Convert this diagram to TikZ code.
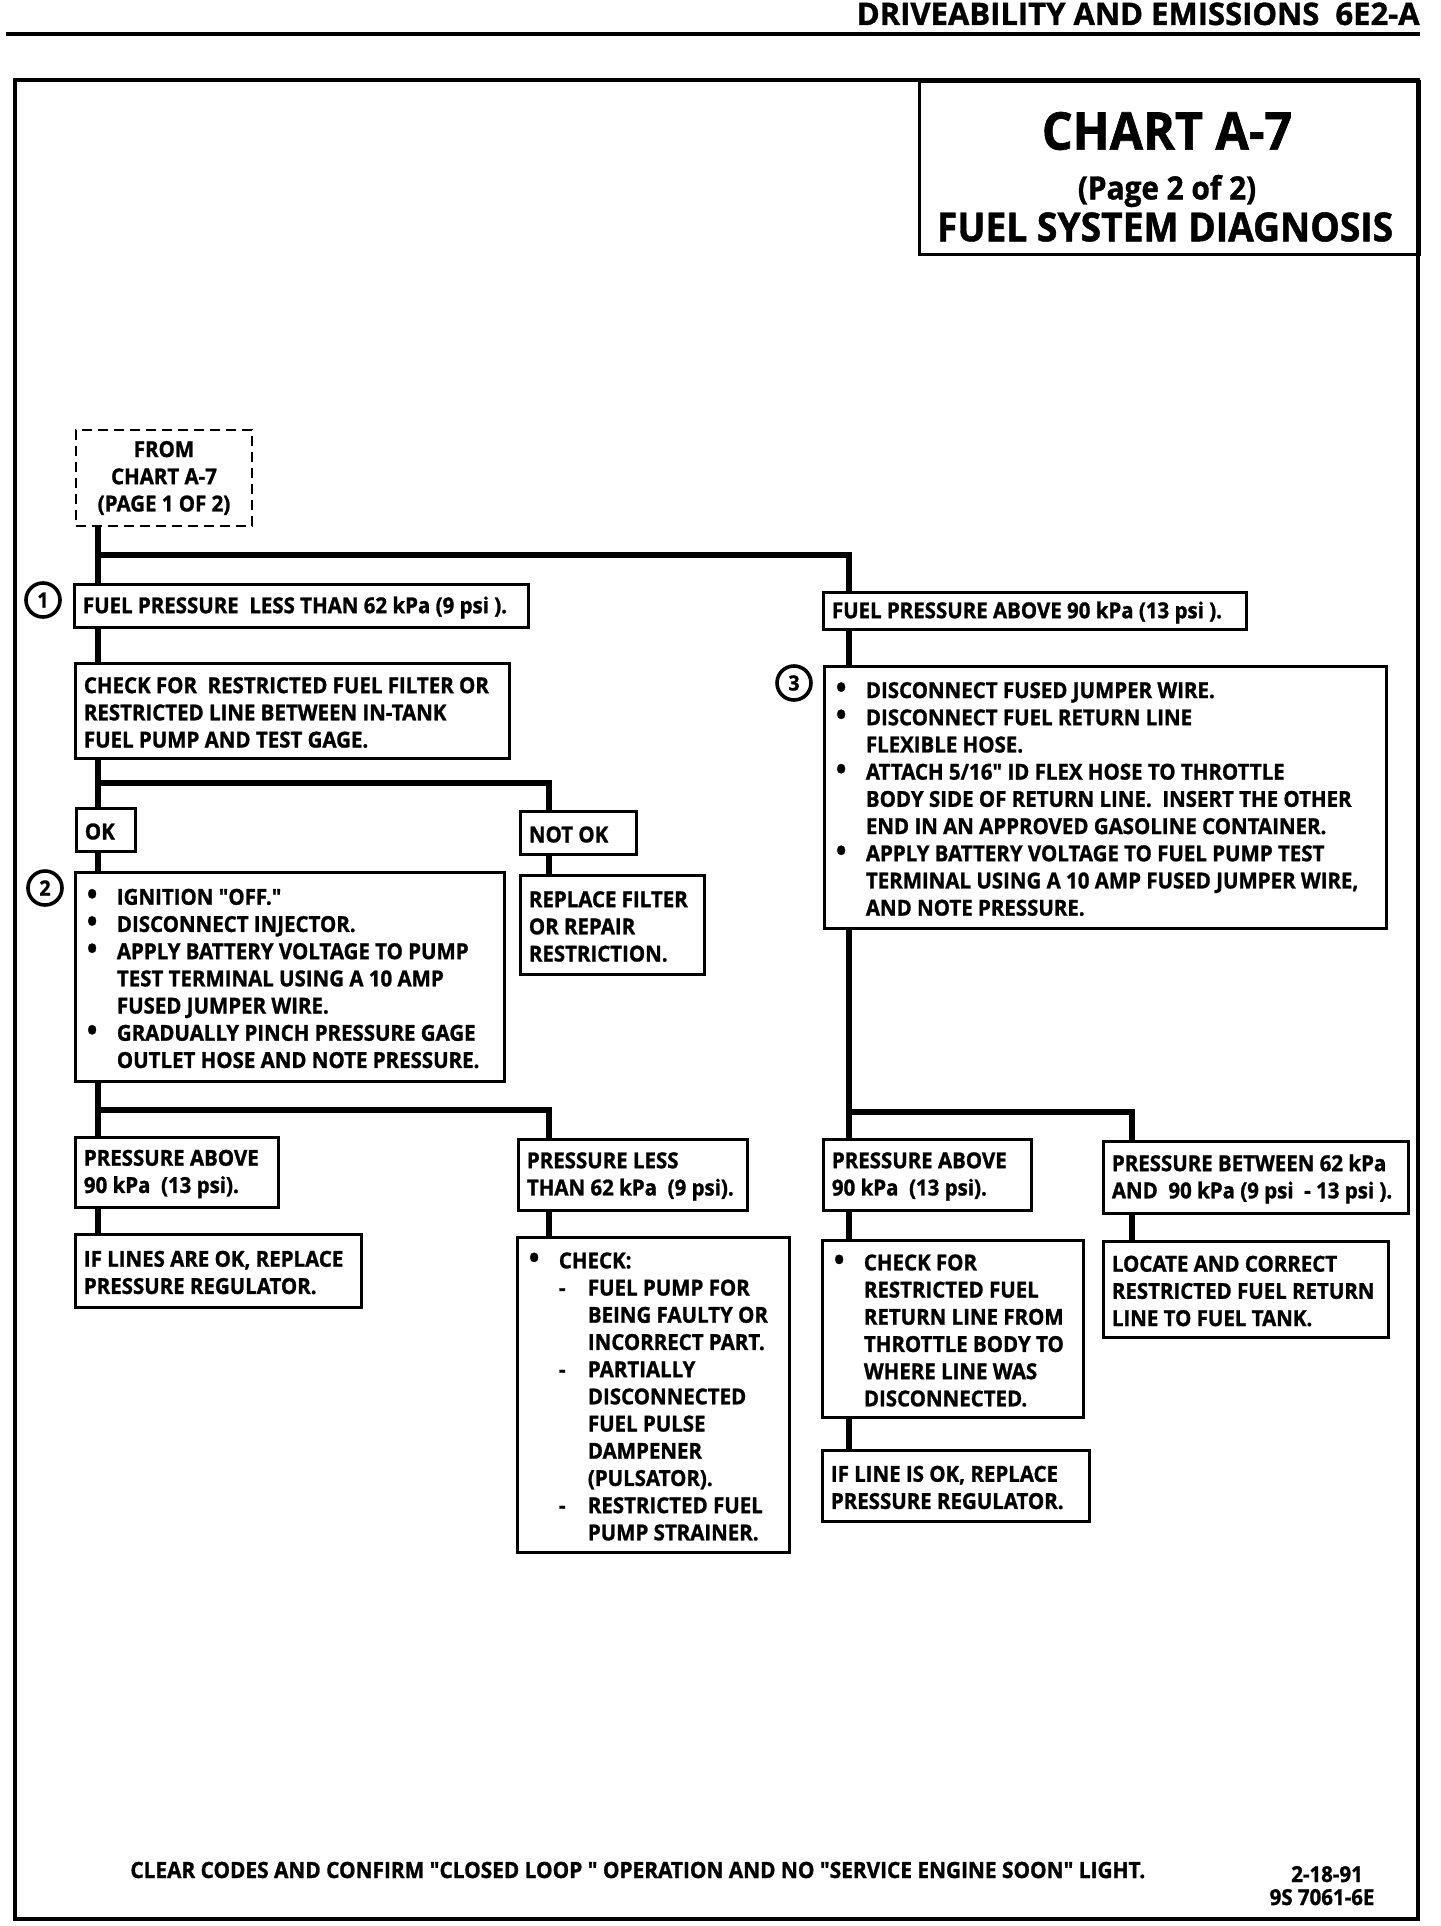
\documentclass[tikz,border=0pt]{standalone}
\usepackage{fontspec}
\newfontfamily\chartfont{Open Sans}[FakeStretch=0.93, BoldFeatures={FakeBold=1.2}]
\newfontfamily\hdrfont{Open Sans}[FakeStretch=1.0, BoldFeatures={FakeBold=1.2}]
\usetikzlibrary{calc}

\newcommand\fbul{\hspace*{1.5pt}\makebox[15pt][l]{\fontsize{15}{0}\selectfont\textbullet}}
\newcommand\find{\hspace*{16.5pt}}
\newcommand\fdash{\makebox[14.5pt][l]{-}}
\newcommand\fdind{\hspace*{14.5pt}}

\tikzset{
  every node/.style={font=\chartfont\bfseries\fontsize{11}{13.6}\selectfont},
  frameline/.style={draw, line width=1.8pt},
  boxnode/.style={draw, line width=1.5pt, inner sep=0pt},
  txt/.style={align=left, anchor=west, inner sep=0pt},
  conn/.style={line width=2.8pt},
  numc/.style={draw, circle, line width=1.8pt, minimum size=17pt, inner sep=0pt,
    font=\chartfont\bfseries\fontsize{10.5}{12}\selectfont},
  dashbox/.style={draw, line width=1.3pt, dash pattern=on 5pt off 3pt, inner sep=0pt, align=center},
}

\newcommand\flowbox[6]{%
  \pgfmathsetmacro\fbw{(#4-#2)*0.5}%
  \pgfmathsetmacro\fbh{(#5-#3)*0.5}%
  \node[boxnode, minimum width=\fbw pt, minimum height=\fbh pt] (#1) at ({(#2+#4)/2},{(#3+#5)/2}) {};%
  \node[txt] (#1-t) at ([xshift=5pt, yshift=-1pt]#1.west) {#6};%
}

\begin{document}
\begin{tikzpicture}[x=0.5pt,y=-0.5pt]
\useasboundingbox (0,0) rectangle (1440,1926);
\fill[white] (0,0) rectangle (1440,1926);

% header
\node[anchor=base east, inner sep=0pt, font=\hdrfont\bfseries\fontsize{15.5}{18}\selectfont] (hdr) at (1420,25) {DRIVEABILITY AND EMISSIONS\ \ 6E2-A};
\draw[line width=1.6pt] (6,34) -- (1420,34);

% frame
\draw[frameline] (15,80) rectangle (1418,1919);

% title box
\node[draw, line width=1.5pt, anchor=north west, minimum width=250pt, minimum height=86.5pt, inner sep=0pt] (title) at (918,80) {};
\node[font=\chartfont\bfseries\fontsize{26}{30}\selectfont] (t1) at (1167,131) {CHART A-7};
\node[font=\chartfont\bfseries\fontsize{16}{18}\selectfont] (t2) at (1167,191) {(Page 2 of 2)};
\node[font=\chartfont\bfseries\fontsize{20}{24}\selectfont] (t3) at (1165,227) {FUEL SYSTEM DIAGNOSIS};

% columns and junctions
\coordinate (cL) at (98,0);
\coordinate (cM) at (549,0);
\coordinate (cR) at (849,0);
\coordinate (cRR) at (1132,0);
\coordinate (j1) at (98,555);
\coordinate (j2) at (98,783);
\coordinate (j3) at (98,1110);
\coordinate (j4) at (849,1112);

% start box
\node[dashbox, minimum width=88pt, minimum height=48pt] (from) at (164,478) {FROM\\CHART A-7\\(PAGE 1 OF 2)};

% boxes
\flowbox{b1}{74}{584}{528}{627}{FUEL PRESSURE\ \ LESS THAN 62 kPa (9 psi ).}
\flowbox{b2}{75}{663}{509}{758}{CHECK FOR\ \ RESTRICTED FUEL FILTER OR\\RESTRICTED LINE BETWEEN IN-TANK\\FUEL PUMP AND TEST GAGE.}
\flowbox{ok}{76}{808}{135}{851}{OK}
\flowbox{notok}{520}{811}{636}{854}{NOT OK}
\flowbox{s2}{75}{872}{504}{1081}{\fbul IGNITION "OFF."\\
\fbul DISCONNECT INJECTOR.\\
\fbul APPLY BATTERY VOLTAGE TO PUMP\\
\find TEST TERMINAL USING A 10 AMP\\
\find FUSED JUMPER WIRE.\\
\fbul GRADUALLY PINCH PRESSURE GAGE\\
\find OUTLET HOSE AND NOTE PRESSURE.}
\flowbox{repl}{520}{875}{704}{974}{REPLACE FILTER\\OR REPAIR\\RESTRICTION.}
\flowbox{paL}{75}{1137}{278}{1207}{PRESSURE ABOVE\\90 kPa\ \ (13 psi).}
\flowbox{regL}{75}{1234}{361}{1307}{IF LINES ARE OK, REPLACE\\PRESSURE REGULATOR.}
\flowbox{plL}{518}{1139}{747}{1210}{PRESSURE LESS\\THAN 62 kPa\ \ (9 psi).}
\flowbox{chk}{517}{1237}{789}{1552}{\fbul CHECK:\\
\find\fdash FUEL PUMP FOR\\
\find\fdind BEING FAULTY OR\\
\find\fdind INCORRECT PART.\\
\find\fdash PARTIALLY\\
\find\fdind DISCONNECTED\\
\find\fdind FUEL PULSE\\
\find\fdind DAMPENER\\
\find\fdind (PULSATOR).\\
\find\fdash RESTRICTED FUEL\\
\find\fdind PUMP STRAINER.}
\flowbox{paR}{823}{592}{1246}{629}{FUEL PRESSURE ABOVE 90 kPa (13 psi ).}
\flowbox{b3}{824}{666}{1386}{928}{\fbul DISCONNECT FUSED JUMPER WIRE.\\
\fbul DISCONNECT FUEL RETURN LINE\\
\find FLEXIBLE HOSE.\\
\fbul ATTACH 5/16" ID FLEX HOSE TO THROTTLE\\
\find BODY SIDE OF RETURN LINE.\ \ INSERT THE OTHER\\
\find END IN AN APPROVED GASOLINE CONTAINER.\\
\fbul APPLY BATTERY VOLTAGE TO FUEL PUMP TEST\\
\find TERMINAL USING A 10 AMP FUSED JUMPER WIRE,\\
\find AND NOTE PRESSURE.}
\flowbox{pa2}{823}{1139}{1031}{1210}{PRESSURE ABOVE\\90 kPa\ \ (13 psi).}
\flowbox{chkR}{822}{1240}{1083}{1417}{\fbul CHECK FOR\\
\find RESTRICTED FUEL\\
\find RETURN LINE FROM\\
\find THROTTLE BODY TO\\
\find WHERE LINE WAS\\
\find DISCONNECTED.}
\flowbox{regR}{822}{1450}{1089}{1521}{IF LINE IS OK, REPLACE\\PRESSURE REGULATOR.}
\flowbox{btw}{1103}{1141}{1408}{1213}{PRESSURE BETWEEN 62 kPa\\AND\ \ 90 kPa (9 psi\ \ - 13 psi ).}
\flowbox{loc}{1103}{1241}{1388}{1337}{LOCATE AND CORRECT\\RESTRICTED FUEL RETURN\\LINE TO FUEL TANK.}

% step numbers
\node[numc] (n1) at (43,600) {1};
\node[numc] (n2) at (45,888) {2};
\node[numc] (n3) at (794,683) {3};

% connectors
\draw[conn] (from.south -| cL) -- (b1.north -| cL);
\draw[conn] (j1) -| (paR.north -| cR);
\draw[conn] (b1.south -| cL) -- (b2.north -| cL);
\draw[conn] (b2.south -| cL) -- (ok.north -| cL);
\draw[conn] (j2) -| (notok.north -| cM);
\draw[conn] (ok.south -| cL) -- (s2.north -| cL);
\draw[conn] (notok.south -| cM) -- (repl.north -| cM);
\draw[conn] (s2.south -| cL) -- (paL.north -| cL);
\draw[conn] (j3) -| (plL.north -| cM);
\draw[conn] (paL.south -| cL) -- (regL.north -| cL);
\draw[conn] (plL.south -| cM) -- (chk.north -| cM);
\draw[conn] (paR.south -| cR) -- (b3.north -| cR);
\draw[conn] (b3.south -| cR) -- (pa2.north -| cR);
\draw[conn] (j4) -| (btw.north -| cRR);
\draw[conn] (pa2.south -| cR) -- (chkR.north -| cR);
\draw[conn] (chkR.south -| cR) -- (regR.north -| cR);
\draw[conn] (btw.south -| cRR) -- (loc.north -| cRR);

% footer
\node[anchor=base west, inner sep=0pt, font=\chartfont\bfseries\fontsize{11.2}{13}\selectfont] (foot) at (130,1878) {CLEAR CODES AND CONFIRM "CLOSED LOOP " OPERATION AND NO "SERVICE ENGINE SOON" LIGHT.};
\node[anchor=base, inner sep=0pt] (date) at (1327,1882) {2-18-91};
\node[anchor=base, inner sep=0pt] (code) at (1322,1905) {9S 7061-6E};
\end{tikzpicture}
\end{document}
